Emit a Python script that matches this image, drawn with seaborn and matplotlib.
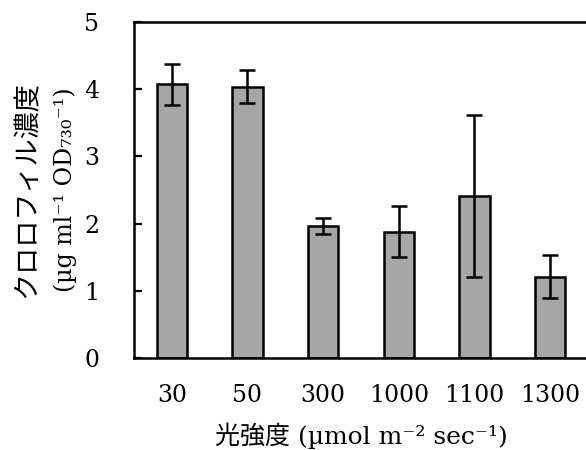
import matplotlib
matplotlib.use("Agg")
import matplotlib.pyplot as plt
import seaborn as sns
import pandas as pd
import numpy as np

categories = ["30", "50", "300", "1000", "1100", "1300"]
values = [4.07, 4.04, 1.97, 1.88, 2.41, 1.21]
errors = [0.30, 0.25, 0.12, 0.38, 1.20, 0.32]
yticks = [0, 1, 2, 3, 4, 5]

sns.set_theme(style="white")
plt.rcParams['font.family'] = ['DejaVu Serif', 'Noto Sans CJK JP']
for k in ["text.color", "axes.labelcolor", "xtick.color", "ytick.color"]:
    plt.rcParams[k] = "black"

df = pd.DataFrame({"light": categories, "chl": values})

fig = plt.figure(figsize=(5.86, 4.5), dpi=100)
ax = fig.add_axes([134/586, 1 - 358/450, (588 - 134)/586, (358 - 22)/450])

sns.barplot(data=df, x="light", y="chl", order=categories, color="#a6a6a6",
            edgecolor="black", linewidth=1.8, width=0.4, saturation=1,
            errorbar=None, ax=ax)
ax.errorbar(np.arange(len(categories)), values, yerr=errors, fmt="none",
            ecolor="black", elinewidth=1.8, capsize=6, capthick=1.8, zorder=5)

ax.set_xlim(-0.5, 5.5)
ax.set_ylim(0, 5)
ax.set_yticks(yticks)
ax.set_yticklabels([str(t) for t in yticks])

for side in ["left", "top", "bottom"]:
    ax.spines[side].set_visible(True)
    ax.spines[side].set_color("black")
    ax.spines[side].set_linewidth(1.8)
ax.spines["right"].set_visible(False)

ax.tick_params(axis="y", direction="in", length=6, width=1.6, color="black",
               pad=25, labelsize=17, left=True)
ax.tick_params(axis="x", length=0, pad=19, labelsize=17)

ax.set_xlabel("光強度 (µmol m⁻² sec⁻¹)", fontsize=18, labelpad=11)
ax.set_ylabel("(µg ml⁻¹ OD₇₃₀⁻¹)", fontsize=17, labelpad=5)
fig.text(27/586, 1 - 190/450, "クロロフィル濃度", rotation=90,
         ha="center", va="center", fontsize=19.5)

fig.savefig("out.png", dpi=100)
